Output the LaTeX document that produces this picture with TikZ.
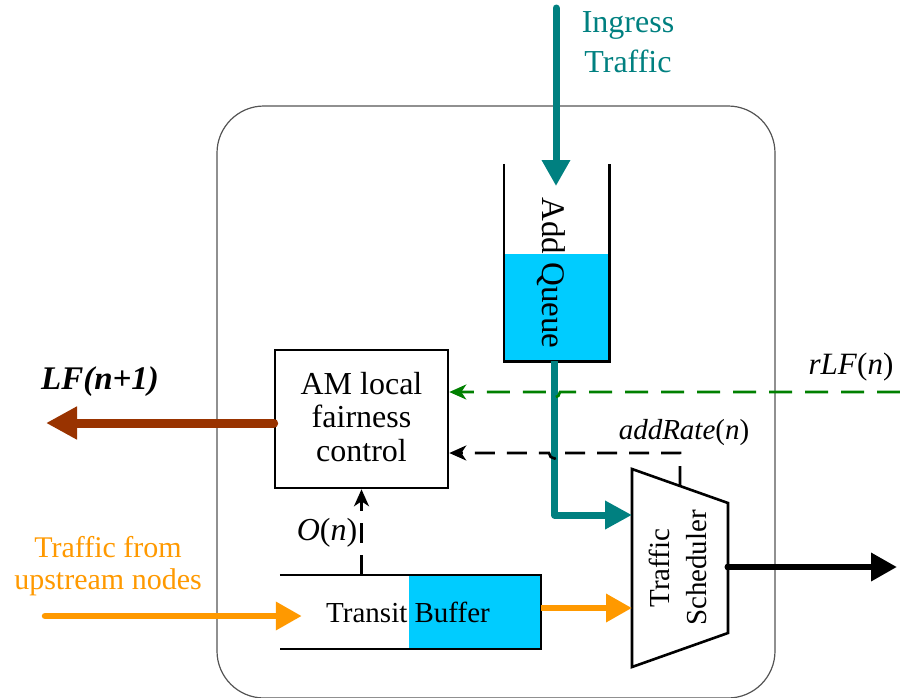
\documentclass[tikz,border=0pt]{standalone}
\usepackage{fontspec}
\setmainfont{Liberation Serif}
\usetikzlibrary{arrows.meta,calc}
\definecolor{teal}{HTML}{008080}
\definecolor{orng}{HTML}{FF9900}
\definecolor{brwn}{HTML}{993300}
\definecolor{cyanq}{HTML}{00CCFF}
\definecolor{grn}{HTML}{008000}
\definecolor{frame}{HTML}{555555}
\tikzset{
  thickarrow/.style={line width=7pt,-{Triangle[length=26pt,width=27pt]}},
  sigarrow/.style={line width=2.6pt,dash pattern=on 20pt off 12pt,-{Stealth[length=17pt,width=15pt,inset=5pt]}},
  boxline/.style={line width=2.6pt},
  lbl/.style={inner sep=0pt,align=center},
}
\begin{document}
\begin{tikzpicture}[x=1pt,y=-1pt]
\useasboundingbox (0,0) rectangle (900,697);
% outer frame
\draw[frame,line width=1.2pt,rounded corners=47pt] (217,106) rectangle (775,698);

% Add queue
\node[minimum width=105pt,minimum height=197pt,inner sep=0pt] (q) at (556.5,262.5) {};
\fill[cyanq] (q.south west) rectangle ($(q.east)+(0,-8.5)$);
\draw[boxline,line join=miter] (q.north west) -- (q.south west) -- (q.south east) -- (q.north east);
\node[lbl,rotate=-90,font=\fontsize{33}{38}\selectfont] (qlab) at (551,273) {Add Queue};

% ingress
\coordinate (ing) at (556,8);
\coordinate (qin) at (556,186);
\draw[teal,thickarrow,line cap=round] (ing) -- (qin);
\node[lbl,teal,font=\fontsize{32}{40}\selectfont] (inglab) at (628,42) {Ingress\\Traffic};

% AM local fairness control
\node[draw,boxline,minimum width=173pt,minimum height=138pt,inner sep=0pt] (am) at (361.5,419) {};
\node[lbl,font=\fontsize{32}{33.5}\selectfont] (amlab) at (361.5,417) {AM local\\fairness\\control};

% LF(n+1)
\coordinate (lfout) at (46,423);
\draw[brwn,line width=9pt,line cap=round,-{Triangle[length=31pt,width=31pt]}] (am.west |- lfout) -- (lfout);
\node[lbl,font=\bfseries\itshape\fontsize{33}{38}\selectfont] (lflab) at (100,382) {LF(n+1)};

% Transit buffer
\node[minimum width=261pt,minimum height=74pt,inner sep=0pt] (buf) at (410.5,612) {};
\fill[cyanq] ($(buf.north east)+(-132,0)$) rectangle (buf.south east);
\draw[line width=2pt] (buf.north west) -- (buf.north east) -- (buf.south east) -- (buf.south west);
\node[lbl,font=\fontsize{29}{34}\selectfont] (buflab) at (408,612) {Transit Buffer};

% traffic from upstream
\coordinate (up) at (45,616);
\draw[orng,thickarrow,line width=6.5pt,line cap=round] (up) -- ($(buf.west |- up)+(22,0)$);
\node[lbl,orng,font=\fontsize{30}{32}\selectfont] (uplab) at (108,566) {Traffic from\\upstream nodes};

% scheduler
\coordinate (s1) at (632,469);
\coordinate (s2) at (728,503);
\coordinate (s3) at (728,633);
\coordinate (s4) at (632,667);
\draw[boxline,line join=miter] (s1) -- (s2) -- (s3) -- (s4) -- cycle;
\node[lbl,rotate=90,font=\fontsize{29}{37}\selectfont] (slab) at (678,568) {Traffic\\Scheduler};

% output
\coordinate (sout) at (728,567);
\coordinate (out) at (897,567);
\draw[thickarrow,line width=6.5pt] (sout) -- (out);
\fill (sout) circle (3.5pt);

% buffer -> scheduler
\coordinate (bs) at (632,608);
\draw[orng,thickarrow,line width=6.5pt] (buf.east |- bs) -- (bs);

% queue -> scheduler
\coordinate (qs) at (632,515);
\draw[teal,line width=7pt,line join=round,-{Triangle[length=27pt,width=27pt]}] (554.5,361) -- (554.5,515) -- (qs);

% O(n)
\draw[sigarrow] (buf.north -| am.south) -- (am.south);
\node[lbl,font=\fontsize{32}{36}\selectfont] (onlab) at (327,533) {\textit{O}(\textit{n})};

% rLF(n)
\coordinate (rlf) at (900,392);
\draw[grn,sigarrow,dash pattern=on 23pt off 13pt] (rlf) -- (560,392) arc[start angle=0,end angle=-180,radius=5.5pt] -- (am.east |- rlf);
\node[lbl,font=\fontsize{31}{36}\selectfont] (rlflab) at (851,367) {\textit{rLF}(\textit{n})};

% addRate(n)
\coordinate (ar) at (680,453);
\coordinate (st) at (680,486);
\draw[sigarrow] (st) -- (ar) -- (560,453) arc[start angle=0,end angle=-180,radius=5.5pt] -- (am.east |- ar);
\node[lbl,font=\fontsize{29}{34}\selectfont] (arlab) at (684,433) {\textit{addRate}(\textit{n})};
\end{tikzpicture}
\end{document}
